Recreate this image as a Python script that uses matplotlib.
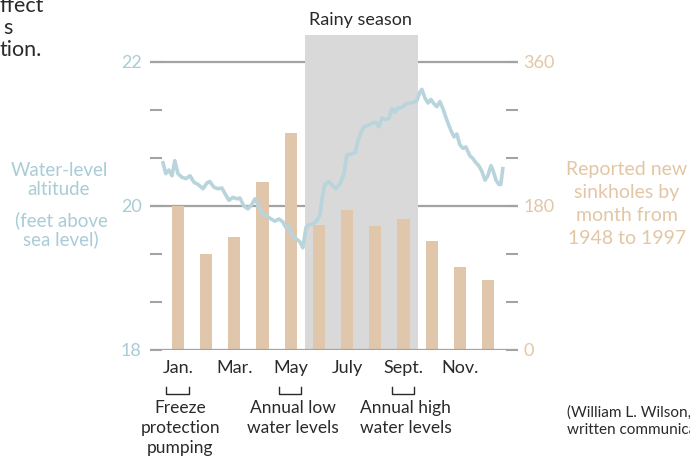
import numpy as np
import matplotlib.pyplot as plt
import matplotlib.transforms as mtransforms

plt.rcParams['font.family'] = ['Lato', 'DejaVu Sans']

months = ['Jan.', 'Feb.', 'Mar.', 'Apr.', 'May', 'June', 'July', 'Aug.', 'Sept.', 'Oct.', 'Nov.', 'Dec.']
sinkholes = [180, 120, 141, 210, 271, 156, 175, 155, 164, 136, 104, 87]

# water level, x in month units (0 = mid Jan.)
wl_month = [-0.53, -0.43, -0.32, -0.21, -0.11, 0.00, 0.14, 0.28, 0.43, 0.57, 0.71, 0.89,
            1.03, 1.13, 1.28, 1.42, 1.56, 1.70, 1.81, 1.95, 2.09, 2.20, 2.34, 2.48,
            2.62, 2.73, 2.87, 3.01, 3.16, 3.30, 3.44, 3.58, 3.72, 3.83, 3.94, 4.04,
            4.18, 4.33, 4.43, 4.54, 4.65, 4.79, 4.93, 5.04, 5.11, 5.21, 5.35, 5.50,
            5.60, 5.74, 5.89, 5.99, 6.13, 6.28, 6.38, 6.49, 6.60, 6.74, 6.88, 7.02,
            7.13, 7.23, 7.38, 7.48, 7.59, 7.70, 7.80, 7.94, 8.09, 8.23, 8.37, 8.48,
            8.58, 8.65, 8.76, 8.87, 8.97, 9.08, 9.18, 9.29, 9.40, 9.54, 9.68, 9.79,
            9.89, 10.00, 10.11, 10.21, 10.35, 10.46, 10.57, 10.67, 10.78, 10.89, 10.99,
            11.10, 11.17, 11.28, 11.38, 11.45, 11.52]
wl_feet = [20.60, 20.45, 20.50, 20.42, 20.63, 20.45, 20.40, 20.38, 20.42, 20.33, 20.30, 20.24,
           20.32, 20.34, 20.26, 20.24, 20.25, 20.15, 20.08, 20.12, 20.10, 20.11, 20.00, 19.96,
           20.02, 20.10, 20.00, 19.88, 19.86, 19.82, 19.79, 19.82, 19.78, 19.70, 19.72, 19.60,
           19.55, 19.50, 19.42, 19.70, 19.74, 19.75, 19.80, 19.88, 20.10, 20.30, 20.34, 20.28,
           20.24, 20.30, 20.45, 20.71, 20.72, 20.74, 20.90, 21.02, 21.10, 21.12, 21.15, 21.16,
           21.10, 21.22, 21.20, 21.22, 21.35, 21.30, 21.36, 21.37, 21.42, 21.43, 21.44, 21.47,
           21.58, 21.62, 21.50, 21.43, 21.48, 21.42, 21.38, 21.45, 21.35, 21.19, 21.05, 20.96,
           21.00, 20.85, 20.80, 20.82, 20.70, 20.66, 20.60, 20.56, 20.48, 20.36, 20.42,
           20.56, 20.50, 20.36, 20.30, 20.30, 20.52]

rainy = (4.5, 8.5)
notes = [(0, 'Freeze\nprotection\npumping'), (4, 'Annual low\nwater levels'), (8, 'Annual high\nwater levels')]

blue = '#b8d4dc'
blue_txt = '#a9ccd6'
tan = '#e0c7ab'
tan_txt = '#e3c6a4'
grey = '#a3a3a3'
dark = '#2a2a2a'

fig = plt.figure(figsize=(6.9, 4.58), dpi=100)
ax = fig.add_axes([150 / 690, 1 - 350 / 458, 368 / 690, 315 / 458])
ax2 = ax.twinx()

x = np.arange(len(months))
ax.set_xlim(-0.99, 12.06)
ax.set_ylim(0, 4.375 * 90)
ax2.set_ylim(18, 22.375)

for v in [0, 180, 360]:
    ax.axhline(v, color=grey, lw=1.6, zorder=0 if v else 3)
ax.axvspan(*rainy, color='#d9d9d9', lw=0, zorder=1)
ax.bar(x, sinkholes, width=0.43, color=tan, zorder=2)
ax2.plot(wl_month, wl_feet, color=blue, lw=2.6, solid_joinstyle='round', zorder=3)

for a in (ax, ax2):
    for s in a.spines.values():
        s.set_visible(False)

# sinkholes scale on the right, water level on the left
ax.yaxis.tick_right()
ax2.yaxis.tick_left()
ax.set_yticks([0, 180, 360])
ax.set_yticks(np.arange(0, 361, 60), minor=True)
ax2.set_yticks([18, 20, 22])
ax2.set_yticks(np.arange(18, 22.01, 2 / 3), minor=True)
ax.tick_params(axis='y', which='both', direction='in', length=8.5, width=1.5, color=grey,
               labelsize=13, labelcolor=tan_txt, pad=4, right=True, left=False)
ax2.tick_params(axis='y', which='both', direction='in', length=8.5, width=1.5, color=grey,
                labelsize=13, labelcolor=blue_txt, pad=6, left=True, right=False)
ax.set_xticks(x[::2])
ax.set_xticklabels(months[::2])
ax.tick_params(axis='x', length=0, labelsize=13, labelcolor=dark, pad=7)

trans = mtransforms.blended_transform_factory(ax.transData, ax.transAxes)
ax.text(6.49, 1.048, 'Rainy season', transform=trans,
        ha='center', va='center', fontsize=13, color=dark)

for m, label in notes:
    ax.plot([m - 0.42, m - 0.42, m + 0.38, m + 0.38], [-0.118, -0.140, -0.140, -0.118],
            color=dark, lw=1.0, transform=trans, clip_on=False)
    ax.text(m + 0.08, -0.160, label, transform=trans, ha='center', va='top',
            fontsize=12.5, color=dark, linespacing=1.3)

fig.text(59 / 690, 1 - 180 / 458, 'Water-level\naltitude', ha='center', va='center',
         fontsize=13.5, color=blue_txt, linespacing=1.1)
fig.text(61 / 690, 1 - 230 / 458, '(feet above\nsea level)', ha='center', va='center',
         fontsize=13.5, color=blue_txt, linespacing=1.1)
fig.text(627 / 690, 1 - 204 / 458, 'Reported new\nsinkholes by\nmonth from\n1948 to 1997',
         ha='center', va='center', fontsize=14, color=tan_txt, linespacing=1.45)

fig.text(567 / 690, 1 - 421 / 458,
         '(William L. Wilson, Subsurface Evaluations, Inc.,\nwritten communication, 1998)',
         ha='left', va='center', fontsize=11, color=dark, linespacing=1.2)

# caption fragments at the left edge, as in the source page
for y, frag, xr in [(6, 'ffect', 44), (28, 's', 13), (50, 'tion.', 42)]:
    fig.text(xr / 690, 1 - y / 458, frag, ha='right', va='center', fontsize=15.5, color=dark)

fig.savefig('out.png', dpi=100)
